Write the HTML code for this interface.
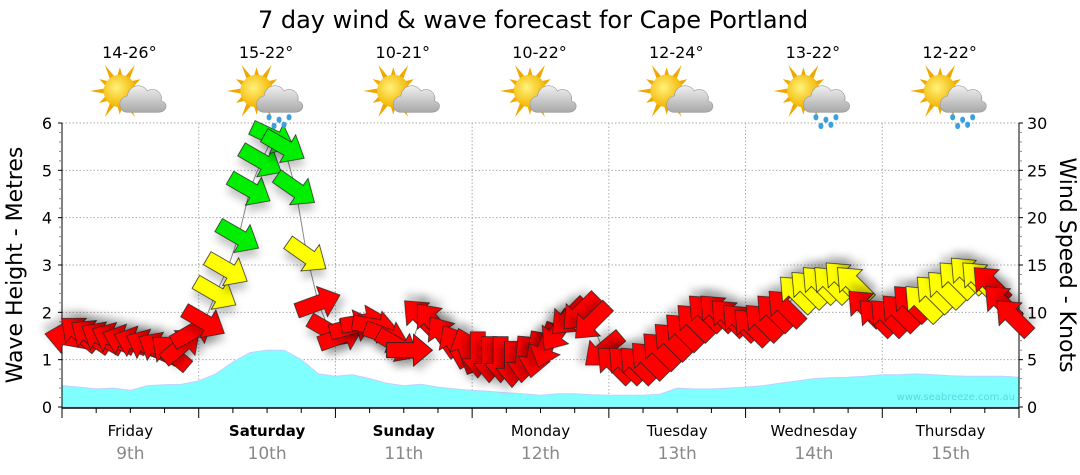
<!DOCTYPE html>
<html><head><meta charset="utf-8">
<style>
html,body{margin:0;padding:0;background:#fff;}
svg{display:block;font-family:"DejaVu Sans","Liberation Sans",sans-serif;}
</style></head>
<body>
<svg id="chart" width="1080" height="475" viewBox="0 0 1080 475" xmlns="http://www.w3.org/2000/svg">
<defs>
<filter id="sh" x="-50%" y="-50%" width="200%" height="200%"><feDropShadow dx="4" dy="6" stdDeviation="4" flood-color="#000" flood-opacity="0.22"/></filter>
<radialGradient id="sunG" cx="0.4" cy="0.4" r="0.6"><stop offset="0" stop-color="#fff27a"/><stop offset="1" stop-color="#f3b400"/></radialGradient>
<linearGradient id="cloudG" x1="0" y1="0" x2="0" y2="1"><stop offset="0" stop-color="#f0f0f0"/><stop offset="1" stop-color="#a8a8a8"/></linearGradient>
</defs>
<text x="533" y="28" font-size="24" text-anchor="middle" fill="#000">7 day wind &amp; wave forecast for Cape Portland</text>
<g id="grid"></g>
<g id="waves"></g>
<g id="axes"></g>
<g id="wind"></g>
<g id="topg"></g>
<text x="1015" y="400" font-size="10" text-anchor="end" fill="#5ad8dd">www.seabreeze.com.au</text>
<text transform="translate(22,265) rotate(-90)" font-size="22" text-anchor="middle">Wave Height - Metres</text>
<text transform="translate(1060,265) rotate(90)" font-size="22" text-anchor="middle">Wind Speed - Knots</text>
</svg>
<script>
const days=["Friday","Saturday","Sunday","Monday","Tuesday","Wednesday","Thursday"];
const dates=["9th","10th","11th","12th","13th","14th","15th"];
const boldDays=[false,true,true,false,false,false,false];
const temps=["14-26°","15-22°","10-21°","10-22°","12-24°","13-22°","12-22°"];
const rainy=[false,true,false,false,false,true,true];
const leftTicks=[0,1,2,3,4,5,6];
const rightTicks=[0,5,10,15,20,25,30];
// wave height (m), 3-hourly
const waveHeight=[0.45,0.42,0.38,0.4,0.35,0.45,0.47,0.48,
0.55,0.7,0.95,1.15,1.2,1.2,1.0,0.7,
0.65,0.68,0.6,0.5,0.45,0.48,0.42,0.38,
0.35,0.33,0.3,0.28,0.25,0.28,0.28,0.26,
0.25,0.25,0.25,0.27,0.4,0.38,0.38,0.4,
0.42,0.45,0.5,0.55,0.6,0.62,0.63,0.65,
0.68,0.68,0.7,0.68,0.66,0.65,0.65,0.65,0.63];
// wind speed (knots), 2-hourly
const windSpeed=[7.3,7.8,7.5,7.3,7.2,7.0,6.8,6.5,6.2,5.8,6.5,8.0,
9,12,14.5,18,23,26,28.5,27.5,23,16,11,8,
7.5,8.5,9,8.5,7.5,6.5,6,9.5,9,7.5,6.5,6,
5.5,5,5,4.5,5,5.5,6.5,8,9.5,10,9,6,
4.5,4.5,4.5,5,6,7,8,9,10,10,9.5,9,
8.5,9,10,10.5,12,12.5,13,13,13.5,13,10.5,9.5,
9.5,10,11,11,12,12.5,13.5,14,13.5,13,11,9.5];
// wind arrow heading (deg, screen, 0=right, clockwise)
const windDir=[190,220,215,210,205,200,200,205,210,220,-40,-30,
30,30,30,30,30,30,25,30,35,35,-20,30,
-20,-15,-10,10,20,30,0,225,230,235,240,250,
90,90,90,90,95,100,110,125,135,135,135,140,
225,225,225,225,225,225,225,225,225,225,225,225,
225,225,225,225,225,225,225,225,225,225,225,225,
225,225,225,225,225,225,225,225,225,225,225,225];
const windColor=["r","r","r","r","r","r","r","r","r","r","r","r",
"r","y","y","g","g","g","g","g","g","y","r","r",
"r","r","r","r","r","r","r","r","r","r","r","r",
"r","r","r","r","r","r","r","r","r","r","r","r",
"r","r","r","r","r","r","r","r","r","r","r","r",
"r","r","r","r","y","y","y","y","y","y","r","r",
"r","r","r","y","y","y","y","y","y","r","r","r"];
const NS="http://www.w3.org/2000/svg";
const X0=62,X1=1019,Y0=407,Y1=123,DW=(X1-X0)/7;
const xDay=d=>X0+d*DW;
const yWave=v=>Y0-(v/6)*(Y0-Y1);
const yWind=v=>Y0-(v/30)*(Y0-Y1);
function mk(tag,attrs,parent){const e=document.createElementNS(NS,tag);for(const k in attrs)e.setAttribute(k,attrs[k]);parent.appendChild(e);return e;}
const grid=document.getElementById('grid'),axes=document.getElementById('axes'),wavesG=document.getElementById('waves'),windG=document.getElementById('wind'),topG=document.getElementById('topg');
leftTicks.forEach(t=>{if(t>0){const l=mk('line',{x1:X0,x2:X1,y1:yWave(t),y2:yWave(t),stroke:'#aaa','stroke-dasharray':'1.5,2'},grid);}});
for(let d=1;d<7;d++){const l=mk('line',{x1:xDay(d),x2:xDay(d),y1:Y1,y2:Y0,stroke:'#aaa','stroke-dasharray':'1.5,2'},grid);}
// wave area
let pts=waveHeight.map((v,i)=>[X0+i*(DW/8),yWave(v)]);
let dp='M'+X0+','+Y0+' '+pts.map(p=>'L'+p[0].toFixed(1)+','+p[1].toFixed(1)).join(' ')+' L'+X1+','+Y0+' Z';
const wa=mk('path',{d:dp,fill:'#80ffff',stroke:'#c0d0ff','stroke-width':1},wavesG);

// axes
mk('line',{x1:X0,x2:X1,y1:Y0+1,y2:Y0+1,stroke:'#000','stroke-width':1.5},axes);
mk('line',{x1:X0,x2:X0,y1:Y1,y2:Y0+1,stroke:'#000'},axes);
mk('line',{x1:X1,x2:X1,y1:Y1,y2:Y0+1,stroke:'#000'},axes);
for(let i=0;i<=28;i++){const x=X0+i*DW/4;mk('line',{x1:x,x2:x,y1:Y0+1,y2:Y0+(i%4==0?11:6),stroke:'#000'},axes);}
for(let i=0;i<=30;i++){const y=Y0-i*(Y0-Y1)/30;const maj=i%5==0;
mk('line',{x1:X0-(maj?4:3),x2:X0,y1:y,y2:y,stroke:maj?'#000':'#888'},axes);
mk('line',{x1:X1,x2:X1+(maj?4:3),y1:y,y2:y,stroke:maj?'#000':'#888'},axes);}
leftTicks.forEach(t=>{const e=mk('text',{x:X0-10,y:yWave(t)+6,'font-size':16,'text-anchor':'end'},axes);e.textContent=t;});
rightTicks.forEach(t=>{const e=mk('text',{x:X1+8,y:yWind(t)+6,'font-size':16},axes);e.textContent=t;});
days.forEach((d,i)=>{const cx=xDay(i)+DW/2;
const a=mk('text',{x:cx,y:436,'font-size':15,'text-anchor':'middle','font-weight':boldDays[i]?'bold':'normal'},axes);a.textContent=d;
const b=mk('text',{x:cx,y:459,'font-size':17,'text-anchor':'middle',fill:'#888'},axes);b.textContent=dates[i];
const t=mk('text',{x:cx-1,y:58,'font-size':16,'text-anchor':'middle'},topG);t.textContent=temps[i];
const g=mk('g',{transform:'translate('+(cx-3)+',96) scale(1.25)'},topG);
for(let k=0;k<12;k++){const an=k*30*Math.PI/180;const r1=12,r2=k%2?19:24;
mk('polygon',{points:[[Math.cos(an-0.18)*r1-6,Math.sin(an-0.18)*r1-4],[Math.cos(an)*r2-6,Math.sin(an)*r2-4],[Math.cos(an+0.18)*r1-6,Math.sin(an+0.18)*r1-4]].map(p=>p.join(',')).join(' '),fill:'#f0a800'},g);}
mk('circle',{cx:-6,cy:-4,r:13,fill:'url(#sunG)'},g);
mk('path',{d:'M0,13 C-8,13 -8,1 0,0 C1,-9 12,-11 16,-4 C22,-8 29,-2 27,4 C33,5 32,13 25,13 Z',fill:'url(#cloudG)',stroke:'#999','stroke-width':0.5},g);
if(rainy[i]){[[4,17],[12,19],[20,17],[8,24],[16,23]].forEach(p=>mk('ellipse',{cx:p[0],cy:p[1],rx:2,ry:2.5,fill:'#3aa0e0'},g));}
});
// wind line + arrows
const cols={r:'#ff0000',y:'#ffff00',g:'#00ee00'};
const wx=i=>X0+DW/24+i*DW/12;
const wl=mk('polyline',{points:windSpeed.map((v,i)=>wx(i).toFixed(1)+','+yWind(v).toFixed(1)).join(' '),fill:'none',stroke:'#888','stroke-width':1},windG);

windSpeed.forEach((v,i)=>{
const p=mk('polygon',{points:'-23,-7.5 4,-7.5 4,-16 23,0 4,16 4,7.5 -23,7.5',fill:cols[windColor[i]],stroke:'#222','stroke-width':0.8,filter:'url(#sh)',transform:'translate('+wx(i).toFixed(1)+','+yWind(v).toFixed(1)+') rotate('+windDir[i]+')'},windG);


});
</script>
</body></html>
